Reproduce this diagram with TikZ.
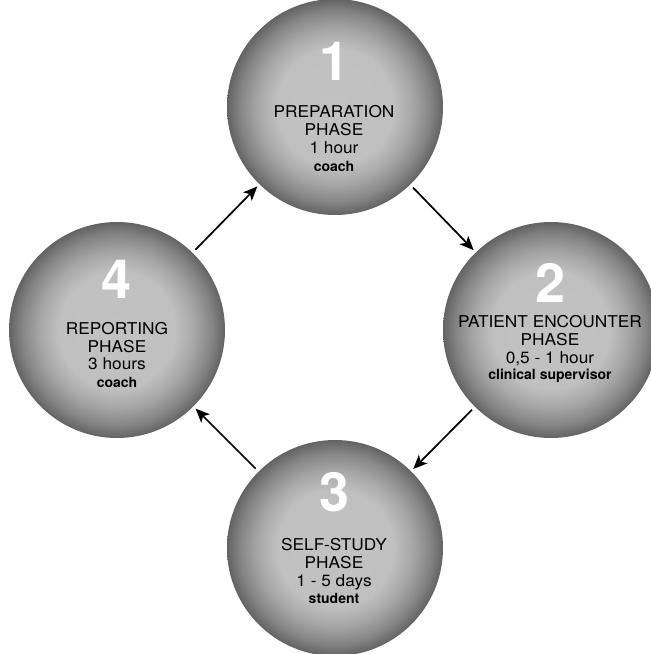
\documentclass[tikz,border=0pt]{standalone}
\usepackage{fontspec}
\usetikzlibrary{arrows.meta}
\newfontfamily\hv[FakeStretch=1.06]{TeX Gyre Heros}
\newfontfamily\hvb{TeX Gyre Heros}
\definecolor{cA}{RGB}{194,194,194}
\definecolor{cB}{RGB}{192,192,192}
\definecolor{cC}{RGB}{166,166,166}
\definecolor{cD}{RGB}{133,133,133}
\definecolor{cE}{RGB}{99,99,99}
\pgfdeclareradialshading{sphere}{\pgfpoint{0bp}{0bp}}{color(0bp)=(cA); color(13.5bp)=(cB); color(18bp)=(cC); color(22bp)=(cD); color(25bp)=(cE); color(50bp)=(cE)}
\tikzset{
  ball/.style={circle, minimum size=216pt, inner sep=0pt, shading=sphere},
  num/.style={anchor=base, text=white, font=\hvb\bfseries\fontsize{54}{54}\selectfont, inner sep=0pt},
  lbl/.style={anchor=base, text=black, font=\hv\fontsize{16.3}{18}\selectfont, inner sep=0pt},
  who/.style={anchor=base, text=black, font=\hvb\bfseries\fontsize{14}{16}\selectfont, inner sep=0pt},
  arr/.style={-{Stealth[length=14pt,width=12pt,inset=3.5pt]}, line width=1.7pt, shorten <=4pt, shorten >=3pt}
}
\begin{document}
\begin{tikzpicture}[x=1pt,y=-1pt]
\useasboundingbox (0,0) rectangle (651,654);
% circles
\node[ball] (c1) at (335,107) {};
\node[ball] (c2) at (551,330) {};
\node[ball] (c3) at (335,548) {};
\node[ball] (c4) at (117,330) {};
% circle 1
\node[num] (n1) at (335,80) {1};
\node[lbl] (a1) at (334,117) {PREPARATION};
\node[lbl] (b1) at (334,135) {PHASE};
\node[lbl] (d1) at (334,153) {1 hour};
\node[who] (w1) at (334,171) {coach};
% circle 2
\node[num] (n2) at (551,302) {2};
\node[lbl] (a2) at (550,327) {PATIENT ENCOUNTER};
\node[lbl] (b2) at (550,345) {PHASE};
\node[lbl] (d2) at (550,363) {0,5 - 1 hour};
\node[who] (w2) at (550,379) {clinical supervisor};
% circle 3
\node[num] (n3) at (335,511) {3};
\node[lbl] (a3) at (334,550) {SELF-STUDY};
\node[lbl] (b3) at (334,568) {PHASE};
\node[lbl] (d3) at (334,586) {1 - 5 days};
\node[who] (w3) at (334,603) {student};
% circle 4
\node[num] (n4) at (117,298) {4};
\node[lbl] (a4) at (117,334) {REPORTING};
\node[lbl] (b4) at (117,352) {PHASE};
\node[lbl] (d4) at (117,369) {3 hours};
\node[who] (w4) at (117,387) {coach};
% arrows
\draw[arr] (c1) -- (c2);
\draw[arr] (c2) -- (c3);
\draw[arr] (c3) -- (c4);
\draw[arr] (c4) -- (c1);
\end{tikzpicture}
\end{document}
